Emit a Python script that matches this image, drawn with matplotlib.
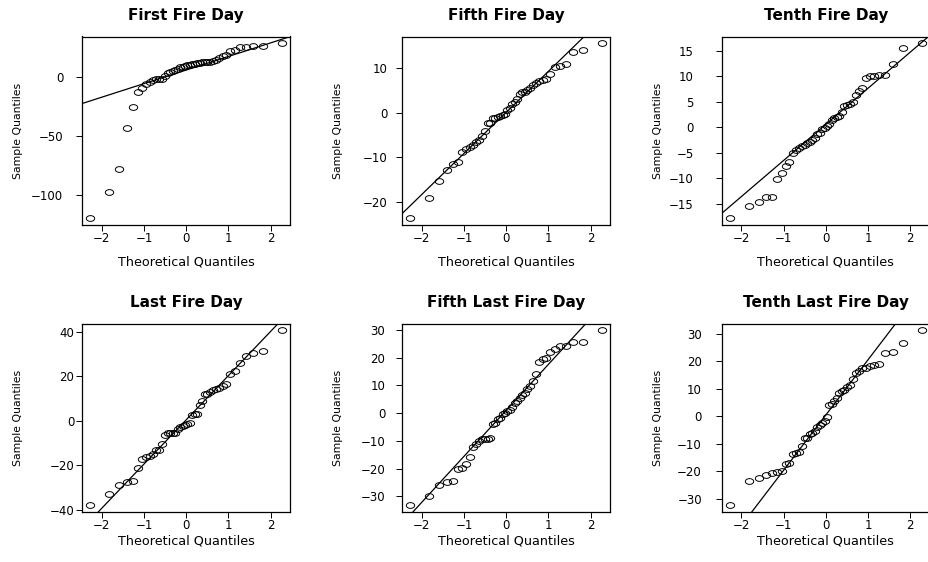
import numpy as np
import matplotlib
matplotlib.use("Agg")
import matplotlib.pyplot as plt
from matplotlib.path import Path
from statistics import NormalDist

# sorted sample values (44 points each)
first_day = [-119.5, -97.7, -78.5, -43.1, -25.2, -12.5, -9.3, -6.0, -4.2, -2.5,
             -2.0, -2.0, -1.7, 0.5, 3.5, 4.5, 5.2, 6.0, 7.0, 8.0,
             8.7, 9.3, 9.8, 10.2, 10.7, 11.1, 11.5, 11.9, 12.2, 12.5,
             12.7, 12.9, 13.2, 14.5, 15.6, 17.3, 18.7, 21.5, 22.9, 24.9,
             25.2, 26.0, 26.3, 28.3]
fifth_day = [-23.6, -19.1, -15.4, -12.9, -11.5, -11.1, -8.8, -8.2, -7.6, -7.2,
             -6.5, -6.0, -5.2, -4.1, -2.2, -2.2, -1.2, -1.1, -0.9, -0.7,
             -0.5, -0.2, 0.7, 1.2, 2.1, 2.4, 3.1, 4.2, 4.6, 4.8,
             5.2, 5.6, 6.2, 6.7, 7.1, 7.5, 7.7, 8.8, 10.3, 10.5,
             10.9, 13.7, 14.1, 15.6]
tenth_day = [-17.7, -15.3, -14.7, -13.7, -13.6, -10.2, -9.0, -7.5, -6.7, -5.0,
             -4.4, -4.1, -3.7, -3.4, -3.1, -2.8, -2.4, -2.0, -1.4, -1.2,
             -0.4, -0.1, 0.2, 0.7, 1.4, 1.8, 2.0, 2.2, 2.9, 4.1,
             4.3, 4.6, 5.0, 6.4, 7.2, 7.7, 9.6, 10.0, 10.1, 10.2,
             10.3, 12.4, 15.6, 16.4]
last_day = [-37.7, -32.9, -28.7, -27.5, -26.9, -21.1, -17.2, -16.4, -16.0, -14.9,
            -13.2, -12.9, -10.2, -6.4, -5.7, -5.7, -5.7, -5.4, -3.9, -3.0,
            -2.4, -1.9, -1.6, -0.9, 2.5, 3.0, 3.0, 7.0, 8.7, 11.8,
            12.1, 12.9, 13.6, 14.3, 14.8, 15.7, 16.4, 20.9, 22.4, 25.7,
            29.0, 30.2, 31.1, 40.5]
fifth_last_day = [-33.1, -29.9, -26.0, -24.9, -24.5, -20.3, -19.7, -18.3, -15.7, -12.4,
                  -11.2, -9.9, -9.5, -9.4, -9.3, -9.0, -4.1, -3.7, -2.3, -1.7,
                  -0.5, 0.0, 0.6, 1.1, 2.2, 3.5, 4.4, 5.6, 6.7, 7.3,
                  8.7, 9.9, 11.5, 14.1, 18.5, 19.4, 19.7, 22.1, 23.1, 24.2,
                  24.2, 25.6, 25.8, 29.8]
tenth_last_day = [-32.3, -23.6, -22.4, -21.5, -20.8, -20.4, -20.0, -17.5, -16.9, -13.9,
                  -13.6, -13.0, -10.9, -8.0, -7.8, -6.6, -6.0, -5.3, -4.1, -3.2,
                  -2.4, -1.7, -0.4, 4.0, 4.6, 5.6, 6.6, 8.5, 9.0, 9.7,
                  10.7, 11.3, 13.4, 15.8, 16.5, 17.6, 17.7, 18.1, 18.7, 19.0,
                  23.1, 23.3, 26.5, 31.2]

titles = ["First Fire Day", "Fifth Fire Day", "Tenth Fire Day",
          "Last Fire Day", "Fifth Last Fire Day", "Tenth Last Fire Day"]
samples = [first_day, fifth_day, tenth_day, last_day, fifth_last_day, tenth_last_day]
x_ticks = [-2, -1, 0, 1, 2]
y_ticks = [[-100, -50, 0], [-20, -10, 0, 10], [-15, -10, -5, 0, 5, 10, 15],
           [-40, -20, 0, 20, 40], [-30, -20, -10, 0, 10, 20, 30],
           [-30, -20, -10, 0, 10, 20, 30]]

W, H = 929, 562
# axes boxes in pixels: left, top, width, height
col_left = [82.3, 402.3, 722.0]
row_top = [36.5, 323.5]
box_w, box_h = 207.7, 188.3
xlab_gap = [37.5, 29.0]
ytick_gap = [19, 15, 28, 8, 17, 20]

# horizontally stretched circle, like the reference markers
t = np.linspace(0, 2 * np.pi, 60)
ellipse = Path(np.column_stack([1.45 * np.cos(t), np.sin(t)]), closed=True)

fig = plt.figure(figsize=(W / 100, H / 100), dpi=100)
nd = NormalDist()

for k in range(6):
    r, c = divmod(k, 3)
    left, top = col_left[c], row_top[r]
    ax = fig.add_axes([left / W, (H - top - box_h) / H, box_w / W, box_h / H])
    y = np.sort(np.array(samples[k]))
    n = len(y)
    x = np.array([nd.inv_cdf((i - 0.5) / n) for i in range(1, n + 1)])
    ax.plot(x, y, linestyle="none", marker=ellipse, mfc="none", mec="black",
            ms=6.0, mew=0.7)
    # qqline through the quartiles
    yq = np.quantile(y, [0.25, 0.75])
    xq = np.array([nd.inv_cdf(0.25), nd.inv_cdf(0.75)])
    slope = (yq[1] - yq[0]) / (xq[1] - xq[0])
    icpt = yq[0] - slope * xq[0]
    ax.axline((0, icpt), slope=slope, color="black", lw=0.9)
    ax.margins(0.04)
    ax.set_xticks(x_ticks)
    ax.set_yticks(y_ticks[k])
    ax.tick_params(direction="out", length=4.5, width=0.7, labelsize=8.5,
                   color="black")
    ax.tick_params(axis="x", pad=0.5)
    ax.tick_params(axis="y", pad=ytick_gap[k] * 0.72 - 4.5)
    for s in ax.spines.values():
        s.set_linewidth(0.9)

    cx = left + box_w / 2
    fig.text(cx / W, 1 - (top - 21) / H, titles[k], ha="center", va="center",
             fontsize=11, fontweight="bold")
    fig.text(cx / W, 1 - (top + box_h + xlab_gap[r]) / H, "Theoretical Quantiles",
             ha="center", va="center", fontsize=9.2)
    fig.text((left - 64) / W, 1 - (top + box_h / 2) / H, "Sample Quantiles",
             ha="center", va="center", rotation=90, fontsize=7.8,
             family=["Liberation Sans Narrow", "DejaVu Sans"])

fig.savefig("out.png", dpi=100)
